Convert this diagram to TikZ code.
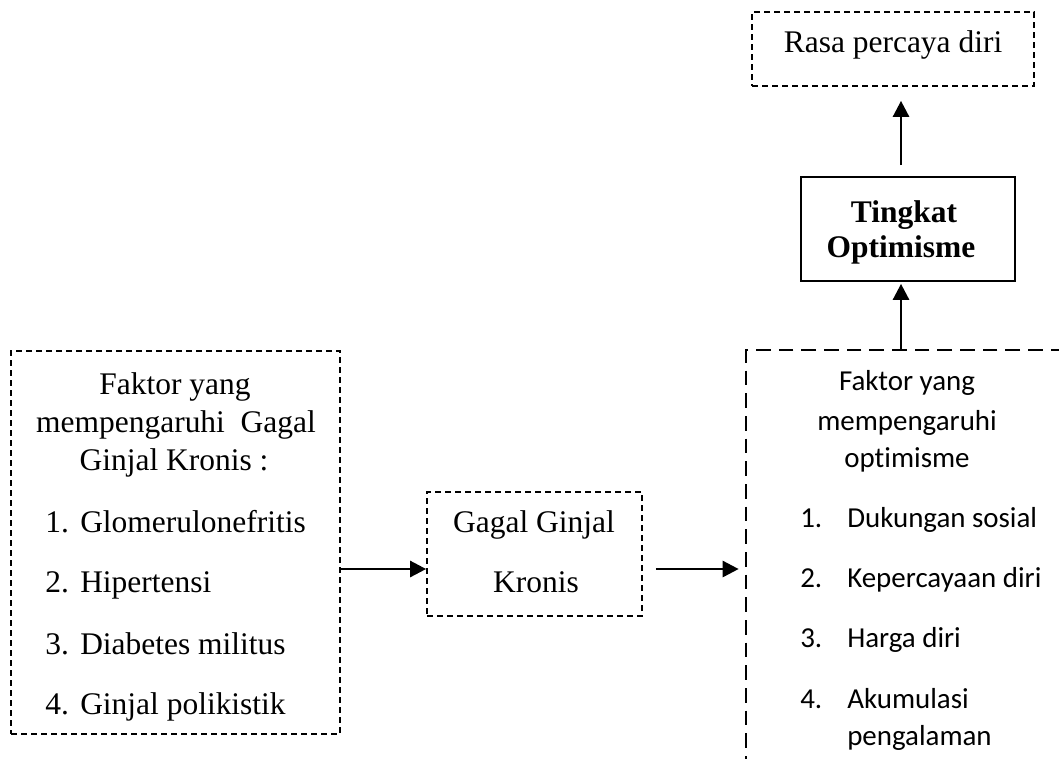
\documentclass[tikz,border=0pt]{standalone}
\usepackage{fontspec}
\setmainfont{Liberation Serif}
\newfontfamily\calibri[Ligatures=NoCommon]{Carlito}
\usetikzlibrary{arrows.meta}

\begin{document}
\begin{tikzpicture}[x=0.75pt, y=-0.75pt,
  kotak/.style={draw, line width=1.3pt, dash pattern=on 4.5pt off 3pt, inner sep=0pt},
  kotaktebal/.style={draw, line width=2pt, dash pattern=on 11pt off 6pt, inner sep=0pt},
  teks/.style={font=\fontsize{23.6}{28}\selectfont, inner sep=0pt},
  teksc/.style={font=\calibri\fontsize{21.7}{26}\selectfont, inner sep=0pt},
  panah/.style={-{Triangle[length=12pt,width=12pt]}, line width=2pt}]
\useasboundingbox (0,0) rectangle (1059,758);
\clip (0,0) rectangle (1059,758);

% kotak
\node [kotak, minimum width=246.75pt, minimum height=287.25pt] (sebab) at (175.5,542.5) {};
\node [kotak, minimum width=161.25pt, minimum height=93pt] (ggk) at (534.5,554) {};
\node [kotaktebal, minimum width=265.5pt, minimum height=337.5pt] (faktoropt) at (923,575) {};
\node [draw, line width=1.3pt, inner sep=0pt, minimum width=160.5pt, minimum height=78pt] (tingkat) at (908,229) {};
\node [kotak, minimum width=211.5pt, minimum height=55.5pt] (rasa) at (893,49) {};

% teks kiri
\node [teks, anchor=base] (s1) at (175,394) {Faktor yang};
\node [teks, anchor=base] (s2) at (176,432) {mempengaruhi\ \ Gagal};
\node [teks, anchor=base] (s3) at (174,470) {Ginjal Kronis :};
\node [teks, anchor=base west] (n1) at (45,532) {1.};
\node [teks, anchor=base west] (t1) at (80,532) {Glomerulonefritis};
\node [teks, anchor=base west] (n2) at (45,592) {2.};
\node [teks, anchor=base west] (t2) at (80,592) {Hipertensi};
\node [teks, anchor=base west] (n3) at (45,654) {3.};
\node [teks, anchor=base west] (t3) at (80,654) {Diabetes militus};
\node [teks, anchor=base west] (n4) at (45,714) {4.};
\node [teks, anchor=base west] (t4) at (80,714) {Ginjal polikistik};

% teks tengah
\node [teks, anchor=base] (g1) at (534,532) {Gagal Ginjal};
\node [teks, anchor=base] (g2) at (536,592) {Kronis};

% teks kanan
\node [teksc, anchor=base] (o1) at (907,390) {Faktor yang};
\node [teksc, anchor=base] (o2) at (907,430) {mempengaruhi};
\node [teksc, anchor=base] (o3) at (907,467) {optimisme};
\node [teksc, anchor=base west] (m1) at (800,527) {1.};
\node [teksc, anchor=base west] (p1) at (847,527) {Dukungan sosial};
\node [teksc, anchor=base west] (m2) at (800,587) {2.};
\node [teksc, anchor=base west] (p2) at (847,587) {Kepercayaan diri};
\node [teksc, anchor=base west] (m3) at (800,647) {3.};
\node [teksc, anchor=base west] (p3) at (847,647) {Harga diri};
\node [teksc, anchor=base west] (m4) at (800,708) {4.};
\node [teksc, anchor=base west] (p4) at (847,708) {Akumulasi};
\node [teksc, anchor=base west] (p5) at (847,745) {pengalaman};

% teks atas
\node [teks, anchor=base, font=\fontsize{23.6}{28}\selectfont\bfseries] (k1) at (904,222) {Tingkat};
\node [teks, anchor=base, font=\fontsize{23.6}{28}\selectfont\bfseries] (k2) at (901,257) {Optimisme};
\node [teks, anchor=base] (r1) at (893,52) {Rasa percaya diri};

% panah
\draw [panah] (sebab.east |- 0,569) -- (ggk.west |- 0,569);
\draw [panah, shorten <=9.75pt, shorten >=4.5pt] (ggk.east |- 0,569) -- (faktoropt.west |- 0,569);
\draw [panah, shorten >=1.5pt] (faktoropt.north -| 901,0) -- (tingkat.south -| 901,0);
\draw [panah, shorten <=8.25pt, shorten >=10.5pt] (tingkat.north -| 901,0) -- (rasa.south -| 901,0);
\end{tikzpicture}
\end{document}
